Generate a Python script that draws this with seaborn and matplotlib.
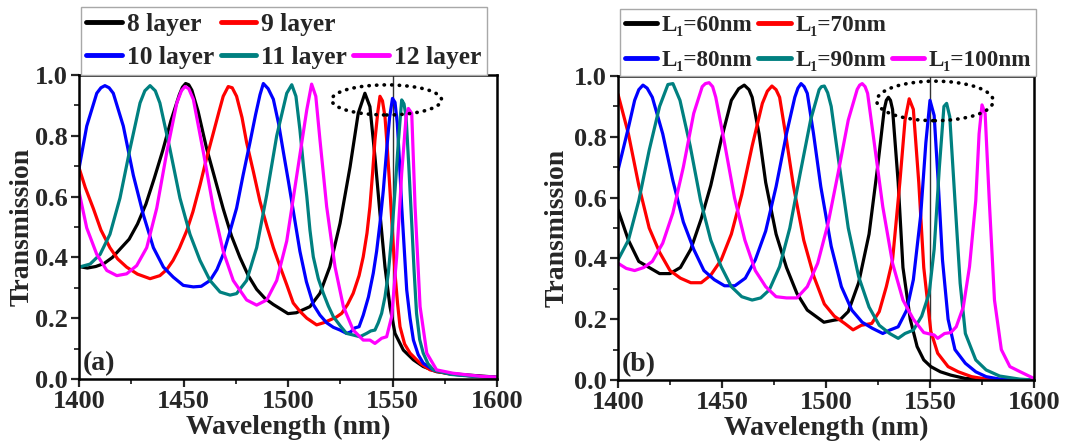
import numpy as np
import pandas as pd
import matplotlib
matplotlib.use("Agg")
import matplotlib.pyplot as plt
from matplotlib.lines import Line2D
from matplotlib.patches import Ellipse
from matplotlib.ticker import MultipleLocator, FormatStrFormatter
import seaborn as sns

# ---------------- panel (a): number of layers ----------------
labels_a = ["8 layer", "9 layer", "10 layer", "11 layer", "12 layer"]

wl_a8 = [1400, 1404, 1408, 1412, 1416, 1420, 1424, 1428, 1432, 1436, 1440, 1444, 1448, 1449.5,
         1451, 1452.5, 1454, 1457, 1461, 1465, 1469, 1473, 1477, 1481, 1485, 1489, 1493, 1497,
         1500, 1504, 1510.5, 1515.3, 1520, 1524.9, 1529.7, 1533.6, 1536.8, 1539.2, 1541.6, 1544,
         1546.4, 1548.8, 1551.2, 1555.2, 1560, 1564.7, 1571.1, 1579, 1590, 1600]
tr_a8 = [0.37, 0.365, 0.37, 0.38, 0.40, 0.43, 0.46, 0.51, 0.575, 0.66, 0.75, 0.85, 0.935, 0.96,
         0.972, 0.968, 0.95, 0.88, 0.76, 0.66, 0.56, 0.47, 0.40, 0.34, 0.295, 0.265, 0.245, 0.228,
         0.215, 0.218, 0.238, 0.282, 0.369, 0.512, 0.698, 0.874, 0.94, 0.896, 0.731, 0.545,
         0.369, 0.238, 0.15, 0.095, 0.063, 0.041, 0.024, 0.017, 0.011, 0.006]

wl_a9 = [1400, 1403, 1406.9, 1410.5, 1414.8, 1418.5, 1422.8, 1428, 1434, 1438.7, 1442, 1445,
         1448, 1451.5, 1454.5, 1457.9, 1461, 1464.3, 1467, 1469, 1471.4, 1473.3, 1475.4, 1478,
         1480.2, 1483.5, 1486.6, 1490, 1493, 1496.2, 1499.4, 1502.5, 1505.8, 1509, 1513.7, 1517,
         1520, 1523, 1525.7, 1528.5, 1531.2, 1534, 1536, 1537.8, 1539.2, 1540.5, 1541.6, 1543,
         1544, 1545.2, 1546.4, 1547.6, 1548.8, 1550, 1551.2, 1552.4, 1553.6, 1555.8, 1558.4,
         1563.2, 1568, 1576, 1588, 1600]
tr_a9 = [0.695, 0.63, 0.56, 0.49, 0.432, 0.395, 0.368, 0.345, 0.33, 0.34, 0.36, 0.39,
         0.43, 0.487, 0.55, 0.638, 0.725, 0.81, 0.88, 0.93, 0.962, 0.958, 0.93, 0.86,
         0.778, 0.68, 0.584, 0.5, 0.432, 0.37, 0.31, 0.25, 0.222, 0.2, 0.178, 0.185,
         0.194, 0.203, 0.216, 0.245, 0.282, 0.34, 0.402, 0.48, 0.567, 0.68, 0.786, 0.88,
         0.93, 0.915, 0.863, 0.75, 0.62, 0.48, 0.348, 0.25, 0.172, 0.115, 0.085,
         0.052, 0.03, 0.018, 0.01, 0.005]

wl_a10 = [1400, 1403.7, 1408.5, 1410.5, 1412.4, 1414.4, 1416.4, 1421.2, 1426, 1430.8, 1435.6,
          1440.4, 1445.1, 1449.9, 1454.7, 1458.5, 1462.7, 1466, 1469, 1472, 1475.4, 1478.5,
          1481.8, 1484.5, 1486.6, 1488.2, 1490.5, 1493, 1495.5, 1497.8, 1500.2, 1502.6, 1505.7,
          1508.8, 1512.1, 1515.3, 1518.5, 1521.7, 1524.9, 1528, 1530, 1532, 1534, 1536, 1538.5,
          1540.8, 1542.4, 1544, 1545.6, 1547.2, 1548.6, 1550, 1551.2, 1552.3, 1553.3, 1554.4,
          1555.6, 1556.8, 1558.4, 1560, 1562.3, 1564.7, 1569.5, 1578, 1590, 1600]
tr_a10 = [0.692, 0.832, 0.94, 0.958, 0.965, 0.958, 0.94, 0.832, 0.67, 0.54, 0.432,
          0.368, 0.335, 0.308, 0.303, 0.305, 0.324, 0.36, 0.41, 0.48, 0.562, 0.67,
          0.778, 0.87, 0.935, 0.972, 0.955, 0.92, 0.84, 0.746, 0.65, 0.55, 0.42,
          0.32, 0.245, 0.21, 0.185, 0.17, 0.161, 0.15, 0.155, 0.168, 0.172, 0.21, 0.27,
          0.348, 0.42, 0.512, 0.62, 0.753, 0.86, 0.923, 0.91, 0.841, 0.72, 0.567,
          0.43, 0.293, 0.2, 0.128, 0.08, 0.052, 0.03, 0.016, 0.009, 0.005]

wl_a11 = [1400, 1405.3, 1410.1, 1414.8, 1419.6, 1424.4, 1429.2, 1431.5, 1434, 1436.5, 1438.7,
          1443.5, 1448.3, 1453.1, 1457.9, 1462.7, 1467.5, 1472.3, 1475.4, 1480.2, 1485, 1489.8,
          1494.6, 1499.4, 1501.8, 1503.8, 1505.7, 1507.4, 1509, 1510.5, 1512.1, 1514.5, 1516.9,
          1519.3, 1521.7, 1525, 1528, 1531, 1534.4, 1537.6, 1539.6, 1541.6, 1543.2, 1544.8,
          1546.4, 1548, 1549.6, 1551.2, 1552.8, 1554.4, 1555.5, 1556.5, 1557.8, 1559.2, 1560.3,
          1561.5, 1563, 1564.7, 1567, 1569.5, 1578, 1590, 1600]
tr_a11 = [0.368, 0.378, 0.41, 0.476, 0.595, 0.757, 0.908, 0.948, 0.965, 0.948, 0.908,
          0.757, 0.595, 0.476, 0.39, 0.324, 0.286, 0.276, 0.281, 0.324, 0.432, 0.605,
          0.8, 0.94, 0.968, 0.93, 0.82, 0.7, 0.6, 0.49, 0.402, 0.33, 0.282,
          0.24, 0.205, 0.175, 0.15, 0.145, 0.139, 0.15, 0.158, 0.161, 0.185, 0.216,
          0.27, 0.348, 0.47, 0.62, 0.78, 0.918, 0.905, 0.863, 0.7, 0.512, 0.36,
          0.216, 0.13, 0.085, 0.05, 0.03, 0.015, 0.008, 0.005]

wl_a12 = [1400, 1403.7, 1408.5, 1413.3, 1418.1, 1422.8, 1427.6, 1432.4, 1437.2, 1442, 1446.8,
          1449, 1450.7, 1452.5, 1454.7, 1459.5, 1464.3, 1469, 1473.8, 1480.2, 1485, 1489.8,
          1494.6, 1499.4, 1504.2, 1509, 1511.3, 1513.3, 1515.3, 1518.5, 1522.5, 1526.5, 1531.2,
          1536, 1539.2, 1541.6, 1544.8, 1547.2, 1549.6, 1552, 1554.4, 1556.5, 1557.6, 1559.2,
          1560.8, 1563.2, 1566.4, 1571.1, 1579, 1591.8, 1600]
tr_a12 = [0.616, 0.497, 0.41, 0.357, 0.34, 0.346, 0.373, 0.432, 0.562, 0.746, 0.908,
          0.948, 0.962, 0.955, 0.92, 0.746, 0.562, 0.42, 0.324, 0.26, 0.243, 0.26,
          0.324, 0.454, 0.67, 0.886, 0.97, 0.93, 0.786, 0.567, 0.369, 0.238, 0.161,
          0.128, 0.128, 0.117, 0.134, 0.139, 0.205, 0.402, 0.677, 0.863, 0.89, 0.874,
          0.567, 0.238, 0.085, 0.03, 0.019, 0.009, 0.006]

# ---------------- panel (b): L1 thickness ----------------
labels_b = ["L\u2081=60nm", "L\u2081=70nm", "L\u2081=80nm", "L\u2081=90nm", "L\u2081=100nm"]

wl_b60 = [1400, 1405, 1410, 1415, 1420, 1425, 1430, 1435, 1440, 1444.6, 1449.6, 1454.5, 1458,
          1460.7, 1463, 1464.5, 1467.8, 1471, 1476, 1481, 1486, 1491, 1494, 1499, 1504, 1507,
          1510.7, 1515.7, 1520.7, 1524.8, 1528, 1529, 1530, 1531, 1532, 1534.7, 1537, 1540.5,
          1543.8, 1547, 1550.4, 1555, 1560, 1567, 1580, 1600]
tr_b60 = [0.56, 0.46, 0.39, 0.37, 0.35, 0.35, 0.37, 0.43, 0.53, 0.64, 0.79, 0.92, 0.958,
          0.97, 0.955, 0.93, 0.81, 0.65, 0.48, 0.37, 0.285, 0.23, 0.215, 0.19, 0.197, 0.2,
          0.225, 0.32, 0.48, 0.7, 0.89, 0.92, 0.93, 0.92, 0.89, 0.65, 0.37, 0.2,
          0.11, 0.066, 0.044, 0.027, 0.016, 0.005, 0.001, 0.0]

wl_b70 = [1400, 1405, 1410, 1415, 1420, 1425, 1430, 1435, 1440, 1444.6, 1449.6, 1454.5, 1459.5,
          1464.5, 1469.4, 1471.8, 1474, 1476, 1477.7, 1481, 1484.3, 1489.3, 1494.2, 1499.2, 1504,
          1509, 1513, 1517, 1522, 1525.6, 1529, 1532, 1535.5, 1538, 1540, 1542, 1544.6, 1547,
          1550.4, 1553.7, 1558.7, 1563.6, 1570, 1577, 1600]
tr_b70 = [0.94, 0.81, 0.64, 0.5, 0.42, 0.36, 0.335, 0.32, 0.32, 0.345, 0.395, 0.48, 0.61,
          0.77, 0.91, 0.95, 0.967, 0.955, 0.93, 0.79, 0.64, 0.46, 0.34, 0.25, 0.21,
          0.186, 0.165, 0.18, 0.186, 0.225, 0.307, 0.395, 0.65, 0.855, 0.925, 0.89, 0.65, 0.37,
          0.16, 0.088, 0.044, 0.027, 0.011, 0.003, 0.0]

wl_b80 = [1400, 1405, 1408, 1410, 1412, 1414, 1416.5, 1421.5, 1426.4, 1431.4, 1436.4, 1441.3,
          1446.3, 1451.2, 1456.2, 1461.2, 1466, 1471, 1476, 1481, 1485, 1486.5, 1488, 1489.5,
          1491, 1494, 1497.5, 1502.5, 1507.4, 1512.4, 1517.4, 1522.3, 1527.3, 1530.6, 1534.7,
          1538.8, 1542, 1545.5, 1548, 1550, 1552, 1553.7, 1556, 1558.7, 1562, 1567, 1572, 1577,
          1583.5, 1600]
tr_b80 = [0.69, 0.83, 0.92, 0.955, 0.97, 0.96, 0.93, 0.81, 0.655, 0.52, 0.43, 0.36,
          0.33, 0.31, 0.31, 0.335, 0.395, 0.49, 0.636, 0.81, 0.93, 0.96, 0.975, 0.965,
          0.943, 0.81, 0.636, 0.44, 0.307, 0.23, 0.19, 0.17, 0.153, 0.164, 0.175,
          0.23, 0.33, 0.54, 0.78, 0.92, 0.87, 0.68, 0.395, 0.2, 0.1, 0.055, 0.027, 0.011,
          0.003, 0.0]

wl_b90 = [1400, 1405, 1410, 1415, 1420, 1424, 1426.4, 1429.8, 1434.7, 1439.7, 1444.6, 1449.6,
          1454.5, 1459.5, 1464.5, 1468.6, 1472.7, 1477.7, 1482.6, 1487.6, 1492.6, 1496.7, 1497.8,
          1499.2, 1500.8, 1502.5, 1505.8, 1510.7, 1515.7, 1520.7, 1525.6, 1530.6, 1534.7, 1538,
          1542, 1546, 1549.6, 1552, 1554.5, 1556.7, 1558, 1559.5, 1562, 1564.5, 1567, 1572,
          1577, 1583.5, 1593, 1600]
tr_b90 = [0.395, 0.46, 0.59, 0.756, 0.9, 0.972, 0.975, 0.92, 0.77, 0.59, 0.46, 0.373,
          0.307, 0.274, 0.263, 0.27, 0.296, 0.373, 0.5, 0.68, 0.855, 0.955, 0.965,
          0.967, 0.945, 0.9, 0.735, 0.5, 0.34, 0.24, 0.18, 0.153, 0.137, 0.153,
          0.164, 0.21, 0.285, 0.43, 0.7, 0.9, 0.91, 0.866, 0.59, 0.318, 0.153, 0.066,
          0.033, 0.013, 0.003, 0.0]

wl_b100 = [1400, 1404, 1408, 1412.4, 1416.5, 1421.5, 1426.4, 1431.4, 1436.4, 1440.5, 1442,
           1443.8, 1445.5, 1447, 1451.2, 1456, 1461, 1466, 1471, 1476, 1481, 1486, 1491, 1496,
           1501, 1505.8, 1510.7, 1515, 1516.2, 1517.4, 1518.8, 1520, 1523, 1527.3, 1532, 1537,
           1542, 1547, 1552, 1553.7, 1557, 1560, 1562.6, 1566, 1569, 1572, 1573.6, 1575, 1576.5,
           1578.5, 1581, 1584.3, 1588.4, 1593.4, 1596.7, 1600]
tr_b100 = [0.384, 0.367, 0.36, 0.37, 0.39, 0.45, 0.55, 0.7, 0.877, 0.965, 0.975,
           0.978, 0.965, 0.93, 0.78, 0.6, 0.46, 0.36, 0.307, 0.274, 0.27, 0.27, 0.307, 0.384,
           0.515, 0.68, 0.855, 0.956, 0.97, 0.975, 0.965, 0.943, 0.79, 0.57, 0.384, 0.263,
           0.2, 0.156, 0.148, 0.137, 0.153, 0.156, 0.175, 0.24, 0.373, 0.59, 0.81, 0.905, 0.877,
           0.59, 0.263, 0.1, 0.044, 0.027, 0.016, 0.005]

colors = ["#000000", "#FF0000", "#0000FF", "#008080", "#FF00FF"]

# ellipse marking the last-band peaks: centre (nm, T), width (nm), height (T)
ring_a = ((1547.2, 0.918), 52.6, 0.099)
ring_b = ((1552.4, 0.918), 56.0, 0.13)


def long_frame(wls, trs, labels):
    parts = [pd.DataFrame({"wl": w, "T": t, "series": lab})
             for w, t, lab in zip(wls, trs, labels)]
    return pd.concat(parts, ignore_index=True)


df_a = long_frame([wl_a8, wl_a9, wl_a10, wl_a11, wl_a12],
                  [tr_a8, tr_a9, tr_a10, tr_a11, tr_a12], labels_a)
df_b = long_frame([wl_b60, wl_b70, wl_b80, wl_b90, wl_b100],
                  [tr_b60, tr_b70, tr_b80, tr_b90, tr_b100], labels_b)

sns.set_style("ticks")
plt.rcParams["font.family"] = ["Liberation Serif", "DejaVu Serif"]
plt.rcParams["font.weight"] = "bold"
plt.rcParams["axes.labelweight"] = "bold"
plt.rcParams["lines.solid_joinstyle"] = "round"

fig = plt.figure(figsize=(10.79, 4.41), dpi=100)
ax_a = fig.add_axes([79 / 1079, 62 / 441, 418 / 1079, 304 / 441])
ax_b = fig.add_axes([618 / 1079, 61 / 441, 416 / 1079, 304 / 441])


def draw_panel(ax, df, labels, ring, tag, legend_size, row_gap, ylabelpad):
    sns.lineplot(data=df, x="wl", y="T", hue="series", hue_order=labels,
                 palette=colors, estimator=None, sort=False, linewidth=2.3,
                 legend=False, ax=ax)
    ax.axvline(1550, color="#333333", lw=1.0, zorder=1)
    (cx, cy), w, h = ring
    ax.add_patch(Ellipse((cx, cy), w, h, fill=False, ec="black", lw=2.6,
                         linestyle=(0, (0.1, 2.0)), capstyle="round", zorder=5))
    ax.set_xlim(1400, 1600)
    ax.set_ylim(0, 1.0)
    ax.xaxis.set_major_locator(MultipleLocator(50))
    ax.xaxis.set_minor_locator(MultipleLocator(25))
    ax.yaxis.set_major_locator(MultipleLocator(0.2))
    ax.yaxis.set_minor_locator(MultipleLocator(0.1))
    ax.yaxis.set_major_formatter(FormatStrFormatter("%.1f"))
    ax.tick_params(which="major", direction="out", length=6, width=1.6,
                   labelsize=19, pad=2)
    ax.tick_params(which="minor", direction="out", length=3.5, width=1.3)
    for lab in ax.get_xticklabels() + ax.get_yticklabels():
        lab.set_fontweight("bold")
    for sp in ax.spines.values():
        sp.set_linewidth(1.8)
        sp.set_color("black")
    ax.set_xlabel("Wavelength (nm)", fontsize=20, fontweight="bold", labelpad=1.5)
    ax.set_ylabel("Transmission", fontsize=20, fontweight="bold", labelpad=ylabelpad)
    ax.text(0.008, 0.01, tag, transform=ax.transAxes, ha="left", va="bottom",
            fontsize=20, fontweight="bold")

    # legend laid out as two rows: first two entries, then the last three
    hs = [Line2D([], [], color=c, lw=3.5) for c in colors]
    blank = Line2D([], [], color="none", lw=0)
    handles = [hs[0], hs[2], hs[1], hs[3], blank, hs[4]]
    texts = [labels[0], labels[2], labels[1], labels[3], "", labels[4]]
    leg = ax.legend(handles, texts, ncol=3, loc="lower left",
                    bbox_to_anchor=(0.004, 1.0), borderaxespad=0,
                    frameon=True, fancybox=False,
                    edgecolor="#a8a8a8", framealpha=1, handlelength=1.4,
                    handletextpad=0.19, columnspacing=0.25, labelspacing=row_gap,
                    borderpad=0.22, prop={"weight": "bold", "size": legend_size})
    leg.get_frame().set_linewidth(1.0)


draw_panel(ax_a, df_a, labels_a, ring_a, "(a)", 18.4, 0.42, 0)
draw_panel(ax_b, df_b, labels_b, ring_b, "(b)", 16.7, 0.6, 3)

fig.savefig("out.png", dpi=100)
